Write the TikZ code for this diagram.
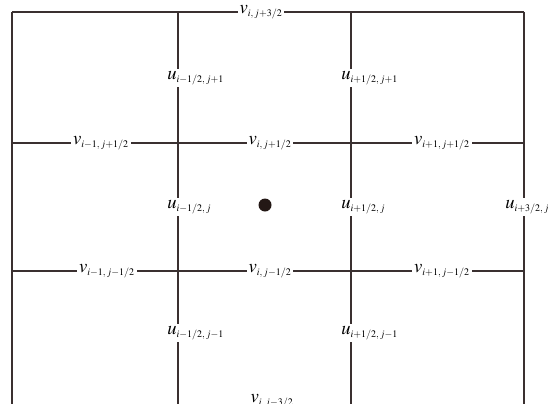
\documentclass[tikz,border=0pt]{standalone}
\usepackage{mathptmx}
\usepackage{tikz}
\usetikzlibrary{positioning}

\definecolor{gridcol}{RGB}{58,48,48}
\definecolor{dotcol}{RGB}{35,24,21}
\DeclareMathSizes{14}{14}{7.5}{6}

\begin{document}
\begin{tikzpicture}[
  x=0.75pt,y=-0.75pt,
  gridline/.style={draw=gridcol,line width=1pt},
  lab/.style={fill=white,inner sep=1.5pt,font=\fontsize{14}{16}\selectfont},
  ulab/.style={lab,anchor=west}
]
\useasboundingbox (0,0) rectangle (548,403);
\clip (0,0) rectangle (548,403);
% grid corners
\coordinate (tl) at (12,12);
\coordinate (t1) at (178,12);
\coordinate (t2) at (351,12);
\coordinate (tr) at (524,12);
\coordinate (bl) at (12,410);
\coordinate (b1) at (178,410);
\coordinate (b2) at (351,410);
\coordinate (br) at (524,410);
\coordinate (ml) at (12,143);
\coordinate (mr) at (524,143);
\coordinate (nl) at (12,271);
\coordinate (nr) at (524,271);
% grid lines
\draw[gridline] (tl) -- (tr);
\draw[gridline] (ml) -- (mr);
\draw[gridline] (nl) -- (nr);
\draw[gridline] (tl) -- (bl);
\draw[gridline] (t1) -- (b1);
\draw[gridline] (t2) -- (b2);
\draw[gridline] (tr) -- (br);
% v labels
\node[lab] (vtop) at (261,12) {$v_{i,\,j+3/2}$};
\node[lab] (vA) at (101,143) {$v_{i-1,\,j+1/2}$};
\node[lab] (vB) at (270,143) {$v_{i,\,j+1/2}$};
\node[lab] (vC) at (442,143) {$v_{i+1,\,j+1/2}$};
\node[lab] (vD) at (107,271) {$v_{i-1,\,j-1/2}$};
\node[lab] (vE) at (270,271) {$v_{i,\,j-1/2}$};
\node[lab] (vF) at (442,271) {$v_{i+1,\,j-1/2}$};
\node[lab] (vbot) at (272,401) {$v_{i,\,j-3/2}$};
% u labels
\node[ulab] (uA) at (165,78) {$u_{i-1/2,\,j+1}$};
\node[ulab] (uB) at (339,78) {$u_{i+1/2,\,j+1}$};
\node[ulab] (uC) at (165,207) {$u_{i-1/2,\,j}$};
\node[ulab] (uD) at (339,207) {$u_{i+1/2,\,j}$};
\node[ulab] (uE) at (503,207) {$u_{i+3/2,\,j}$};
\node[ulab] (uF) at (165,333) {$u_{i-1/2,\,j-1}$};
\node[ulab] (uG) at (339,333) {$u_{i+1/2,\,j-1}$};
% cell centre
\node[circle,fill=dotcol,minimum size=13pt*0.75,inner sep=0pt] (ctr) at (265,205) {};
\end{tikzpicture}
\end{document}
